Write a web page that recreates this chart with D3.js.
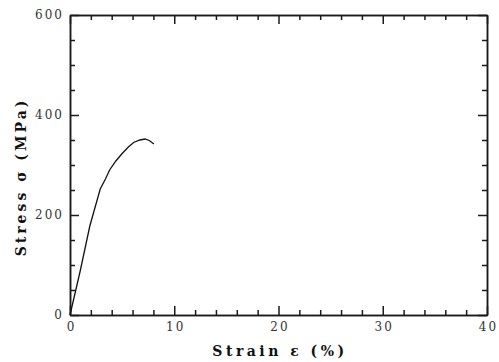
<!DOCTYPE html>
<html>
<head>
<meta charset="utf-8">
<script src="https://cdn.jsdelivr.net/npm/d3@7"></script>
<style>
  body { margin: 0; background: #fff; }
  svg { display: block; }
  text { font-family: "DejaVu Serif", serif; }
  .axis path, .axis line { stroke: #1a1a1a; stroke-width: 1.5px; }
</style>
</head>
<body>
<div class="root"></div>
<script>
// strain (%) and stress (MPa)
var strain = [0, 1.0, 1.9, 2.9, 3.4, 3.8, 4.4, 5.0, 5.6, 6.1, 6.7, 7.2, 7.6, 8.05];
var stress = [0, 90, 178, 252, 272, 290, 308, 323, 336, 345, 350, 352, 349, 342];

var xMajor = [0, 10, 20, 30, 40];
var yMajor = [0, 200, 400, 600];

var w = 499, h = 362;
var m = { left: 70, right: 12, top: 15, bottom: 47 };

var svg = d3.select('.root').append('svg')
  .attr('width', w)
  .attr('height', h);

var x = d3.scaleLinear().domain([0, 40]).range([m.left, w - m.right]);
var y = d3.scaleLinear().domain([0, 600]).range([h - m.bottom, m.top]);

var xMinor = d3.range(0, 41, 2).filter(function(d) { return d % 10 !== 0; });
var yMinor = d3.range(0, 601, 50).filter(function(d) { return d % 200 !== 0; });

// inward ticks on all four sides: minor first, then major with labels
function addAxis(axisFn, scale, vals, len, tx, ty, pad) {
  var a = axisFn(scale).tickValues(vals).tickSizeInner(-len).tickSizeOuter(0);
  if (!pad) a.tickFormat('');
  else a.tickPadding(pad);
  var sel = svg.append('g').attr('class', 'axis')
    .attr('transform', 'translate(' + tx + ',' + ty + ')')
    .call(a);
  return sel;
}

addAxis(d3.axisBottom, x, xMinor, 5, 0, y(0));
addAxis(d3.axisTop, x, xMinor, 5, 0, y(600));
addAxis(d3.axisTop, x, xMajor, 9, 0, y(600));
addAxis(d3.axisLeft, y, yMinor, 5, x(0), 0);
addAxis(d3.axisRight, y, yMinor, 5, x(40), 0);
addAxis(d3.axisRight, y, yMajor, 9, x(40), 0);
var xAx = addAxis(d3.axisBottom, x, xMajor, 9, 0, y(0), 8);
var yAx = addAxis(d3.axisLeft, y, yMajor, 9, x(0), 0, 8);

[xAx, yAx].forEach(function(a) {
  a.selectAll('text')
    .attr('font-family', '"DejaVu Serif", serif')
    .attr('font-size', 12)
    .attr('letter-spacing', 2)
    .attr('fill', '#333');
});
xAx.selectAll('text').attr('dx', 1).attr('dy', '0.65em');
yAx.selectAll('text').attr('dx', 2);

svg.append('text')
  .attr('x', 280).attr('y', 356)
  .attr('text-anchor', 'middle')
  .attr('font-size', 14)
  .attr('font-weight', 'bold').attr('letter-spacing', 3.5)
  .attr('fill', '#111')
  .text('Strain  ε  (%)');

svg.append('text')
  .attr('transform', 'translate(26,177) rotate(-90)')
  .attr('text-anchor', 'middle')
  .attr('font-size', 14)
  .attr('font-weight', 'bold').attr('letter-spacing', 3)
  .attr('fill', '#111')
  .text('Stress  σ  (MPa)');

var line = d3.line()
  .x(function(d, i) { return x(strain[i]); })
  .y(function(d, i) { return y(stress[i]); });

svg.append('path')
  .datum(strain)
  .attr('d', line)
  .attr('fill', 'none')
  .attr('stroke', '#111')
  .attr('stroke-width', 1.3);
</script>
</body>
</html>
